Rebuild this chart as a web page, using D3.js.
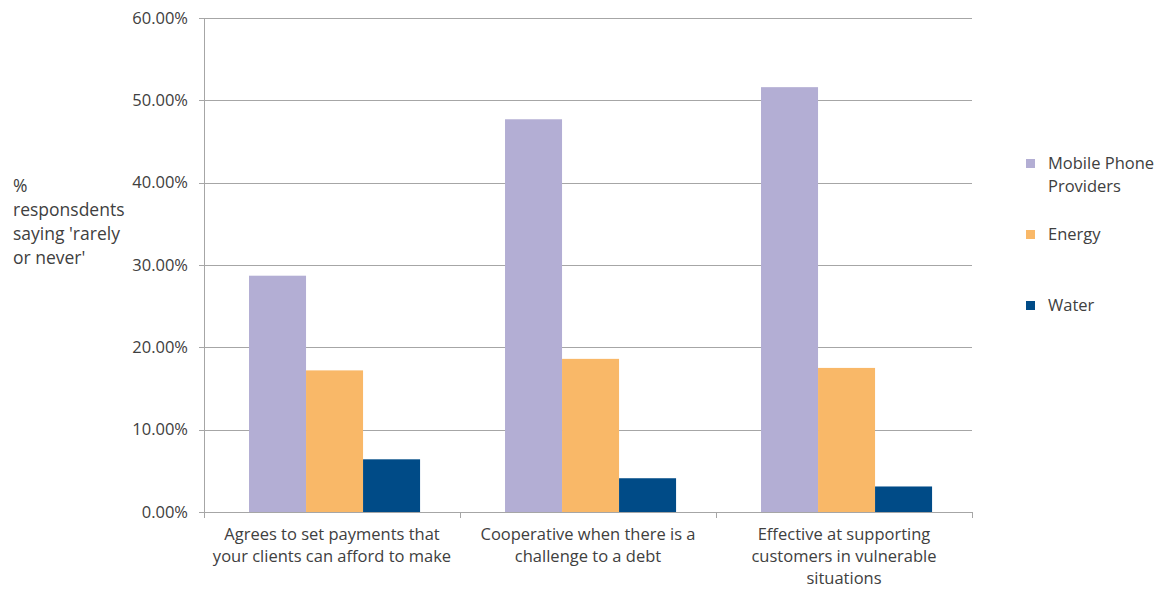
<html lang="en">
<head>
    <meta charset="UTF-8">
    <title>Rarely or never</title>
    <script src="https://cdnjs.cloudflare.com/ajax/libs/d3/7.8.5/d3.min.js"></script>
    <style type="text/css">
        body { margin: 0; background: #fff; }
        * { font-family: "Open Sans", sans-serif; }
    </style>
</head>
<body>
    <div id="onlydiv"></div>
    <script type="text/javascript">

        // Data
        var categories = [
            ["Agrees to set payments that", "your clients can afford to make"],
            ["Cooperative when there is a", "challenge to a debt"],
            ["Effective at supporting", "customers in vulnerable", "situations"]
        ];
        var seriesNames = [["Mobile Phone", "Providers"], ["Energy"], ["Water"]];
        var mobile = [0.287, 0.477, 0.516];
        var energy = [0.172, 0.186, 0.175];
        var water = [0.064, 0.041, 0.031];
        var yTicks = [0, 0.1, 0.2, 0.3, 0.4, 0.5, 0.6];
        var colors = ["#b3aed4", "#f9b868", "#004b87"];

        var w = 1160, h = 589;
        var padL = 204, padR = 972, padT = 18, padB = 512;
        var fs = "16.5px";

        var svg = d3.select("#onlydiv").append("svg")
            .attr("width", w)
            .attr("height", h);

        var series = [mobile, energy, water];

        var xScale = d3.scaleBand()
            .domain(d3.range(categories.length))
            .range([padL, padR]);

        var inner = d3.scaleBand()
            .domain(d3.range(series.length))
            .range([0, xScale.bandwidth()])
            .paddingInner(0)
            .paddingOuter(0.745)
            .align(0.53);

        var yScale = d3.scaleLinear()
            .domain([0, 0.6])
            .range([padB, padT]);

        // gridlines
        svg.append("g")
            .selectAll("line")
            .data(yTicks)
            .enter()
            .append("line")
            .attr("x1", padL - 5)
            .attr("x2", padR)
            .attr("y1", function(d) { return Math.round(yScale(d)) + 0.5; })
            .attr("y2", function(d) { return Math.round(yScale(d)) + 0.5; })
            .attr("stroke", "#a6a6a6")
            .attr("stroke-width", 1);

        // y axis line
        svg.append("line")
            .attr("x1", padL + 0.5).attr("x2", padL + 0.5)
            .attr("y1", padT).attr("y2", padB)
            .attr("stroke", "#a6a6a6");

        // y labels
        svg.append("g")
            .selectAll("text")
            .data(yTicks)
            .enter()
            .append("text")
            .attr("x", padL - 16)
            .attr("y", function(d) { return yScale(d); })
            .attr("dy", "0.35em")
            .attr("text-anchor", "end")
            .attr("font-size", fs)
            .attr("fill", "#404040")
            .text(function(d) { return (d * 100).toFixed(2) + "%"; });

        // bars
        series.forEach(function(s, i) {
            svg.append("g")
                .selectAll("rect")
                .data(s)
                .enter()
                .append("rect")
                .attr("x", function(d, j) { return xScale(j) + inner(i); })
                .attr("y", function(d) { return yScale(d); })
                .attr("width", inner.bandwidth())
                .attr("height", function(d) { return padB - yScale(d); })
                .attr("fill", colors[i]);
        });

        // x axis ticks at category boundaries
        var bounds = d3.range(categories.length + 1).map(function(i) {
            return padL + i * xScale.step();
        });
        svg.append("g")
            .selectAll("line")
            .data(bounds)
            .enter()
            .append("line")
            .attr("x1", function(d) { return Math.round(d) + 0.5; })
            .attr("x2", function(d) { return Math.round(d) + 0.5; })
            .attr("y1", padB)
            .attr("y2", padB + 6)
            .attr("stroke", "#a6a6a6");

        // x labels
        categories.forEach(function(lines, j) {
            var t = svg.append("text")
                .attr("text-anchor", "middle")
                .attr("font-size", fs)
                .attr("fill", "#404040");
            lines.forEach(function(line, k) {
                t.append("tspan")
                    .attr("x", xScale(j) + xScale.bandwidth() / 2)
                    .attr("y", 540 + k * 22)
                    .text(line);
            });
        });

        // y title
        var yTitle = ["%", "responsdents", "saying 'rarely", "or never'"];
        var yt = svg.append("text")
            .attr("font-size", "17.5px")
            .attr("fill", "#404040");
        yTitle.forEach(function(line, k) {
            yt.append("tspan")
                .attr("x", 13)
                .attr("y", 192 + k * 24)
                .text(line);
        });

        // legend
        var legendY = [163, 234, 305];
        seriesNames.forEach(function(lines, i) {
            svg.append("rect")
                .attr("x", 1026)
                .attr("y", legendY[i] - 4)
                .attr("width", 9)
                .attr("height", 9)
                .attr("fill", colors[i]);
            var t = svg.append("text")
                .attr("font-size", fs)
                .attr("fill", "#404040");
            lines.forEach(function(line, k) {
                t.append("tspan")
                    .attr("x", 1048)
                    .attr("y", legendY[i] + 6 + k * 23)
                    .text(line);
            });
        });

    </script>
</body>
</html>
